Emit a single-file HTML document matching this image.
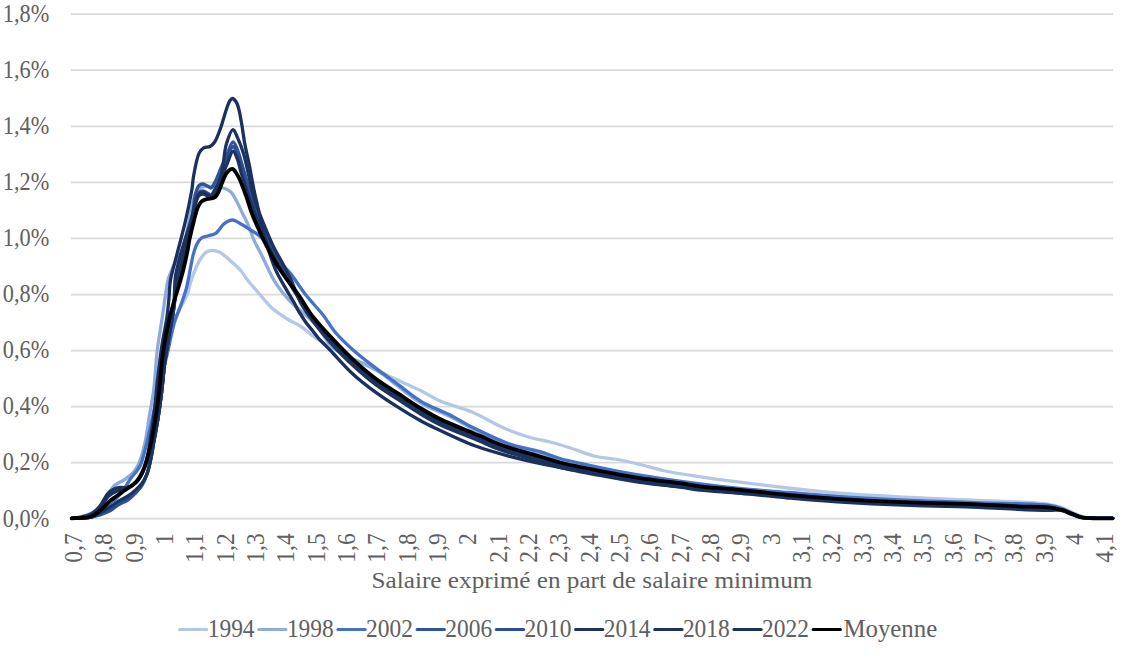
<!DOCTYPE html>
<html><head><meta charset="utf-8"><style>
html,body{margin:0;padding:0;background:#fff;}
svg{display:block;}
.t{font-family:"Liberation Serif",serif;font-size:23px;fill:#606060;}
</style></head><body>
<svg width="1121" height="659" viewBox="0 0 1121 659">
<rect width="1121" height="659" fill="#fff"/>
<line x1="71" y1="518.7" x2="1113" y2="518.7" stroke="#d9d9d9" stroke-width="1.75"/>
<line x1="71" y1="462.6" x2="1113" y2="462.6" stroke="#d9d9d9" stroke-width="1.75"/>
<line x1="71" y1="406.6" x2="1113" y2="406.6" stroke="#d9d9d9" stroke-width="1.75"/>
<line x1="71" y1="350.5" x2="1113" y2="350.5" stroke="#d9d9d9" stroke-width="1.75"/>
<line x1="71" y1="294.5" x2="1113" y2="294.5" stroke="#d9d9d9" stroke-width="1.75"/>
<line x1="71" y1="238.4" x2="1113" y2="238.4" stroke="#d9d9d9" stroke-width="1.75"/>
<line x1="71" y1="182.3" x2="1113" y2="182.3" stroke="#d9d9d9" stroke-width="1.75"/>
<line x1="71" y1="126.3" x2="1113" y2="126.3" stroke="#d9d9d9" stroke-width="1.75"/>
<line x1="71" y1="70.2" x2="1113" y2="70.2" stroke="#d9d9d9" stroke-width="1.75"/>
<line x1="71" y1="14.2" x2="1113" y2="14.2" stroke="#d9d9d9" stroke-width="1.75"/>
<text class="t" text-anchor="end" transform="translate(49.3 526.5) scale(0.97 1.12)">0,0%</text>
<text class="t" text-anchor="end" transform="translate(49.3 470.4) scale(0.97 1.12)">0,2%</text>
<text class="t" text-anchor="end" transform="translate(49.3 414.4) scale(0.97 1.12)">0,4%</text>
<text class="t" text-anchor="end" transform="translate(49.3 358.3) scale(0.97 1.12)">0,6%</text>
<text class="t" text-anchor="end" transform="translate(49.3 302.3) scale(0.97 1.12)">0,8%</text>
<text class="t" text-anchor="end" transform="translate(49.3 246.2) scale(0.97 1.12)">1,0%</text>
<text class="t" text-anchor="end" transform="translate(49.3 190.1) scale(0.97 1.12)">1,2%</text>
<text class="t" text-anchor="end" transform="translate(49.3 134.1) scale(0.97 1.12)">1,4%</text>
<text class="t" text-anchor="end" transform="translate(49.3 78.0) scale(0.97 1.12)">1,6%</text>
<text class="t" text-anchor="end" transform="translate(49.3 22.0) scale(0.97 1.12)">1,8%</text>
<text class="t" text-anchor="end" transform="translate(82.0 533.4) rotate(-90) scale(1.02 1.12)">0,7</text>
<text class="t" text-anchor="end" transform="translate(112.3 533.4) rotate(-90) scale(1.02 1.12)">0,8</text>
<text class="t" text-anchor="end" transform="translate(142.7 533.4) rotate(-90) scale(1.02 1.12)">0,9</text>
<text class="t" text-anchor="end" transform="translate(173.0 533.4) rotate(-90) scale(1.02 1.12)">1</text>
<text class="t" text-anchor="end" transform="translate(203.3 533.4) rotate(-90) scale(1.02 1.12)">1,1</text>
<text class="t" text-anchor="end" transform="translate(233.6 533.4) rotate(-90) scale(1.02 1.12)">1,2</text>
<text class="t" text-anchor="end" transform="translate(264.0 533.4) rotate(-90) scale(1.02 1.12)">1,3</text>
<text class="t" text-anchor="end" transform="translate(294.3 533.4) rotate(-90) scale(1.02 1.12)">1,4</text>
<text class="t" text-anchor="end" transform="translate(324.6 533.4) rotate(-90) scale(1.02 1.12)">1,5</text>
<text class="t" text-anchor="end" transform="translate(355.0 533.4) rotate(-90) scale(1.02 1.12)">1,6</text>
<text class="t" text-anchor="end" transform="translate(385.3 533.4) rotate(-90) scale(1.02 1.12)">1,7</text>
<text class="t" text-anchor="end" transform="translate(415.6 533.4) rotate(-90) scale(1.02 1.12)">1,8</text>
<text class="t" text-anchor="end" transform="translate(446.0 533.4) rotate(-90) scale(1.02 1.12)">1,9</text>
<text class="t" text-anchor="end" transform="translate(476.3 533.4) rotate(-90) scale(1.02 1.12)">2</text>
<text class="t" text-anchor="end" transform="translate(506.6 533.4) rotate(-90) scale(1.02 1.12)">2,1</text>
<text class="t" text-anchor="end" transform="translate(536.9 533.4) rotate(-90) scale(1.02 1.12)">2,2</text>
<text class="t" text-anchor="end" transform="translate(567.3 533.4) rotate(-90) scale(1.02 1.12)">2,3</text>
<text class="t" text-anchor="end" transform="translate(597.6 533.4) rotate(-90) scale(1.02 1.12)">2,4</text>
<text class="t" text-anchor="end" transform="translate(627.9 533.4) rotate(-90) scale(1.02 1.12)">2,5</text>
<text class="t" text-anchor="end" transform="translate(658.3 533.4) rotate(-90) scale(1.02 1.12)">2,6</text>
<text class="t" text-anchor="end" transform="translate(688.6 533.4) rotate(-90) scale(1.02 1.12)">2,7</text>
<text class="t" text-anchor="end" transform="translate(718.9 533.4) rotate(-90) scale(1.02 1.12)">2,8</text>
<text class="t" text-anchor="end" transform="translate(749.3 533.4) rotate(-90) scale(1.02 1.12)">2,9</text>
<text class="t" text-anchor="end" transform="translate(779.6 533.4) rotate(-90) scale(1.02 1.12)">3</text>
<text class="t" text-anchor="end" transform="translate(809.9 533.4) rotate(-90) scale(1.02 1.12)">3,1</text>
<text class="t" text-anchor="end" transform="translate(840.2 533.4) rotate(-90) scale(1.02 1.12)">3,2</text>
<text class="t" text-anchor="end" transform="translate(870.6 533.4) rotate(-90) scale(1.02 1.12)">3,3</text>
<text class="t" text-anchor="end" transform="translate(900.9 533.4) rotate(-90) scale(1.02 1.12)">3,4</text>
<text class="t" text-anchor="end" transform="translate(931.2 533.4) rotate(-90) scale(1.02 1.12)">3,5</text>
<text class="t" text-anchor="end" transform="translate(961.6 533.4) rotate(-90) scale(1.02 1.12)">3,6</text>
<text class="t" text-anchor="end" transform="translate(991.9 533.4) rotate(-90) scale(1.02 1.12)">3,7</text>
<text class="t" text-anchor="end" transform="translate(1022.2 533.4) rotate(-90) scale(1.02 1.12)">3,8</text>
<text class="t" text-anchor="end" transform="translate(1052.6 533.4) rotate(-90) scale(1.02 1.12)">3,9</text>
<text class="t" text-anchor="end" transform="translate(1082.9 533.4) rotate(-90) scale(1.02 1.12)">4</text>
<text class="t" text-anchor="end" transform="translate(1113.2 533.4) rotate(-90) scale(1.02 1.12)">4,1</text>
<text class="t" text-anchor="middle" transform="translate(592 587.7) scale(1.096 1.04)">Salaire exprimé en part de salaire minimum</text>
<path d="M71.6 518.3 C74.4 517.9 77.0 517.9 80.0 517.2 C83.7 516.3 88.5 514.9 92.0 513.0 C95.1 511.3 97.5 509.1 100.0 506.5 C102.9 503.6 105.5 499.6 108.0 496.0 C110.5 492.4 112.2 487.8 115.2 485.0 C117.9 482.4 121.9 481.6 124.9 479.5 C127.9 477.4 130.9 475.4 133.4 472.5 C136.3 469.1 138.6 464.5 140.7 460.0 C142.9 455.3 144.3 450.7 146.0 445.0 C148.1 437.8 150.0 428.3 152.0 420.0 C154.0 411.7 156.2 403.4 158.0 395.0 C159.8 386.7 161.3 378.3 163.0 370.0 C164.7 361.7 166.0 352.8 168.0 345.0 C169.8 337.9 172.1 331.1 174.0 325.0 C175.6 319.9 176.8 315.8 178.8 311.0 C181.1 305.6 185.2 299.7 187.3 294.3 C189.1 289.7 189.6 285.3 191.0 281.0 C192.3 276.9 193.9 272.8 195.5 269.0 C197.0 265.5 198.6 261.9 200.5 259.0 C202.2 256.3 204.2 253.4 206.4 252.0 C208.1 250.9 209.9 250.4 211.9 250.3 C214.2 250.2 216.7 250.8 219.2 252.0 C222.6 253.6 226.5 257.4 230.1 260.5 C233.8 263.7 238.1 267.6 241.1 271.0 C243.5 273.8 244.8 276.5 247.0 279.3 C249.4 282.5 252.7 286.2 255.1 289.0 C256.9 291.1 258.0 292.3 260.0 294.6 C263.1 298.2 267.6 304.2 272.1 308.3 C276.7 312.4 282.3 315.9 287.3 319.0 C291.9 321.9 296.6 323.6 301.0 326.5 C305.7 329.6 309.8 333.9 314.6 337.2 C319.5 340.6 323.9 343.2 330.0 346.7 C338.3 351.5 350.1 357.5 360.3 362.6 C370.4 367.6 380.6 372.3 390.7 377.0 C400.8 381.7 412.1 386.3 421.0 390.7 C428.1 394.2 432.7 397.8 440.0 401.0 C449.1 405.0 461.5 407.6 472.0 412.0 C482.8 416.5 493.8 423.6 504.0 428.0 C513.0 431.9 521.6 435.0 530.0 437.5 C537.6 439.7 544.6 440.5 552.0 442.5 C559.6 444.5 567.7 447.1 575.0 449.5 C581.7 451.7 587.1 454.3 594.0 456.0 C601.9 457.9 611.9 458.5 620.0 460.0 C627.1 461.3 633.0 462.8 640.0 464.5 C647.9 466.4 656.1 469.1 665.0 471.0 C675.0 473.1 685.5 474.6 697.0 476.3 C710.3 478.3 725.3 480.3 740.0 482.2 C755.6 484.2 771.9 486.2 788.0 488.0 C804.2 489.8 819.0 491.5 837.0 493.0 C858.9 494.8 886.0 496.3 910.0 497.5 C933.2 498.7 955.5 499.3 978.5 500.4 C1001.8 501.5 1034.6 502.0 1049.0 504.3 C1055.5 505.3 1058.7 506.5 1062.9 508.0 C1066.5 509.3 1069.4 511.0 1072.7 512.5 C1075.9 514.0 1078.8 515.8 1082.4 516.8 C1086.5 517.9 1091.3 518.0 1096.1 518.3 C1101.4 518.6 1107.2 518.3 1112.7 518.3" fill="none" stroke="#b4c7e7" stroke-width="3.3" stroke-linejoin="round" stroke-linecap="round"/>
<path d="M71.6 518.3 C74.4 517.9 77.0 517.7 80.0 517.0 C83.7 516.1 88.5 514.9 92.0 513.0 C95.1 511.3 97.5 509.2 100.0 506.5 C102.9 503.3 105.5 498.1 108.0 494.5 C110.1 491.4 111.4 488.5 114.0 486.0 C117.0 483.2 122.0 481.4 125.3 479.0 C128.2 477.0 130.8 475.0 132.9 472.8 C134.8 470.9 136.2 469.0 137.5 466.7 C138.9 464.1 139.9 461.5 141.0 458.0 C142.6 453.1 144.2 446.5 145.5 440.0 C147.1 432.4 148.1 423.3 149.5 415.0 C150.9 406.7 152.5 399.3 153.7 390.0 C155.2 378.3 155.8 362.5 157.3 350.0 C158.6 338.9 160.7 328.3 162.1 318.6 C163.4 310.2 164.4 302.0 165.5 295.0 C166.4 289.4 166.6 285.1 168.0 280.0 C169.6 274.4 172.5 268.1 175.0 263.0 C177.2 258.6 180.2 255.4 182.0 251.0 C183.9 246.4 184.8 241.1 186.0 236.0 C187.2 230.8 188.1 225.3 189.2 220.0 C190.2 214.7 191.1 208.7 192.3 204.0 C193.3 200.2 194.0 196.9 195.5 194.0 C196.8 191.5 198.7 188.7 200.6 187.5 C202.0 186.6 203.4 186.7 205.0 186.5 C206.8 186.3 208.7 186.4 211.0 186.5 C214.1 186.6 218.6 186.5 222.0 187.5 C225.1 188.4 228.2 189.6 230.6 191.8 C233.3 194.3 235.1 198.5 237.0 202.0 C239.0 205.5 240.5 209.4 242.3 213.0 C244.1 216.6 245.9 219.7 247.6 223.7 C249.7 228.4 251.5 234.4 253.8 239.6 C256.2 245.0 258.8 249.5 261.8 255.5 C265.8 263.4 270.4 274.8 275.5 282.8 C279.9 289.7 284.9 295.6 290.0 301.0 C294.8 306.1 300.4 310.2 305.0 314.5 C309.2 318.4 312.9 321.4 316.6 325.7 C320.7 330.5 324.5 337.8 328.0 342.0 C330.5 345.0 332.1 346.7 335.0 349.0 C338.9 352.1 344.9 355.5 350.0 358.0 C354.9 360.4 360.1 361.6 365.0 364.0 C370.1 366.4 374.9 369.1 380.0 372.5 C385.9 376.4 391.8 381.7 398.3 386.5 C405.4 391.8 412.7 398.1 421.0 403.0 C429.8 408.2 440.8 411.9 450.0 416.5 C458.7 420.9 465.7 425.5 474.8 430.0 C485.3 435.2 498.2 441.6 509.6 445.5 C519.9 449.0 531.0 450.3 540.0 453.0 C547.4 455.2 552.1 457.7 560.0 460.0 C571.0 463.1 586.6 466.2 600.0 469.0 C613.3 471.8 625.3 474.2 640.0 476.7 C657.9 479.7 682.1 483.2 700.0 485.5 C714.4 487.4 725.2 488.8 739.0 490.0 C754.4 491.4 771.7 491.8 788.0 493.0 C804.3 494.2 819.0 495.8 837.0 497.0 C858.9 498.5 886.0 499.8 910.0 500.8 C933.2 501.8 955.5 502.2 978.5 503.0 C1001.8 503.8 1034.6 503.9 1049.0 505.8 C1055.5 506.7 1058.7 507.6 1062.9 509.0 C1066.5 510.2 1069.4 512.1 1072.7 513.5 C1075.9 514.9 1078.8 516.4 1082.4 517.2 C1086.5 518.1 1091.3 518.1 1096.1 518.3 C1101.4 518.5 1107.2 518.3 1112.7 518.3" fill="none" stroke="#8faadc" stroke-width="3.3" stroke-linejoin="round" stroke-linecap="round"/>
<path d="M71.6 518.3 C74.4 518.2 77.0 518.2 80.0 518.0 C83.6 517.8 88.5 517.8 92.0 516.8 C95.0 516.0 97.5 514.8 100.0 513.0 C102.9 511.0 105.3 507.5 108.0 505.0 C110.6 502.6 113.6 500.8 116.0 498.5 C118.2 496.4 119.9 494.7 122.0 492.0 C124.9 488.2 128.7 481.1 131.4 477.5 C133.1 475.2 134.5 474.0 136.0 472.0 C137.6 469.9 139.2 467.8 140.5 465.0 C142.2 461.4 143.3 456.4 144.5 452.0 C145.8 447.4 146.8 443.1 148.0 438.0 C149.4 431.9 151.0 424.9 152.5 418.0 C154.1 410.6 155.5 401.8 157.0 395.0 C158.2 389.5 159.3 385.0 160.5 380.0 C161.8 375.0 163.2 370.0 164.5 365.0 C165.8 360.0 166.9 355.8 168.2 350.0 C170.0 342.2 171.9 330.1 174.3 322.2 C176.1 316.1 178.4 311.9 180.4 306.4 C182.5 300.6 184.9 293.7 186.4 288.2 C187.6 283.8 188.1 280.6 189.0 276.0 C190.2 270.2 191.4 262.0 192.8 256.4 C193.9 252.0 194.9 248.2 196.5 245.0 C197.8 242.4 198.9 240.0 200.9 238.5 C202.9 236.9 206.1 236.6 208.6 235.7 C211.0 234.9 213.5 234.8 215.8 233.3 C218.8 231.3 221.2 225.9 224.3 223.6 C226.9 221.7 230.0 219.9 232.7 220.0 C235.2 220.1 237.4 222.1 240.0 223.5 C243.0 225.1 246.4 227.3 249.7 229.4 C253.3 231.7 257.3 233.8 260.6 236.9 C264.1 240.2 266.8 244.9 270.0 249.0 C273.3 253.3 276.5 257.9 280.0 262.0 C283.4 266.0 286.8 268.9 290.4 273.4 C295.1 279.3 300.1 287.6 305.5 294.6 C311.2 301.8 318.6 309.2 323.8 315.9 C328.0 321.4 330.3 326.3 334.6 331.5 C339.7 337.6 346.2 343.8 352.8 349.7 C359.8 356.0 367.9 362.0 375.5 367.9 C383.0 373.7 390.7 379.0 398.3 384.6 C405.9 390.2 412.7 396.4 421.0 401.3 C429.8 406.6 440.8 410.3 450.0 415.0 C458.7 419.4 465.7 424.0 474.8 428.5 C485.3 433.7 498.2 440.1 509.6 444.0 C519.9 447.6 531.0 448.9 540.0 451.6 C547.4 453.8 552.1 456.3 560.0 458.5 C571.0 461.6 586.6 464.7 600.0 467.5 C613.3 470.3 625.3 472.7 640.0 475.2 C657.9 478.2 682.1 481.7 700.0 484.0 C714.4 485.9 725.2 487.1 739.0 488.5 C754.4 490.0 771.7 491.2 788.0 492.5 C804.3 493.8 819.0 495.3 837.0 496.5 C858.9 498.0 886.0 499.4 910.0 500.5 C933.2 501.5 955.5 502.0 978.5 502.8 C1001.8 503.6 1034.6 503.4 1049.0 505.5 C1055.5 506.4 1058.7 507.5 1062.9 509.0 C1066.5 510.3 1069.4 512.1 1072.7 513.5 C1075.9 514.9 1078.8 516.4 1082.4 517.2 C1086.5 518.1 1091.3 518.1 1096.1 518.3 C1101.4 518.5 1107.2 518.3 1112.7 518.3" fill="none" stroke="#4472c4" stroke-width="3.3" stroke-linejoin="round" stroke-linecap="round"/>
<path d="M71.6 518.3 C74.4 518.2 77.0 518.2 80.0 518.0 C83.6 517.8 88.5 517.6 92.0 516.8 C95.0 516.1 97.2 515.0 100.0 513.8 C103.2 512.4 106.9 510.6 110.0 508.8 C112.9 507.1 115.1 505.0 118.0 503.2 C121.1 501.3 124.9 499.8 128.0 497.8 C130.9 495.7 133.6 493.3 136.0 491.0 C138.2 488.8 140.2 486.9 142.0 484.2 C144.0 481.3 145.6 477.9 147.0 474.0 C148.7 469.3 149.8 463.5 151.0 458.0 C152.2 452.2 153.0 446.2 154.1 440.0 C155.2 433.5 156.5 427.2 157.7 420.0 C159.1 411.5 160.4 401.7 161.6 392.0 C162.9 381.7 163.7 369.9 165.1 360.0 C166.3 351.4 167.7 344.2 169.1 336.0 C170.5 327.5 172.4 317.9 173.5 310.0 C174.4 303.5 174.6 297.8 175.3 292.0 C175.9 286.5 176.2 282.0 177.3 276.0 C178.8 267.9 181.6 257.1 184.0 248.0 C186.3 239.1 189.6 230.9 191.5 222.0 C193.5 212.9 193.7 200.6 195.5 194.0 C196.5 190.3 197.4 187.1 199.0 185.5 C200.1 184.4 201.6 184.0 203.0 184.0 C204.5 184.0 206.1 185.3 207.5 186.0 C208.8 186.6 209.9 188.3 211.0 188.0 C212.5 187.7 213.6 184.5 215.0 182.0 C217.0 178.4 219.0 172.5 221.0 168.0 C222.9 163.8 224.6 160.1 226.5 155.9 C228.6 151.4 231.0 142.0 233.0 141.9 C234.6 141.8 236.1 146.7 237.5 149.9 C239.3 154.0 240.3 158.8 242.1 164.8 C244.7 174.0 248.2 189.4 251.6 200.0 C254.5 209.0 257.5 216.6 260.8 224.6 C263.9 232.5 267.3 240.7 270.8 247.8 C273.8 254.0 277.2 259.5 280.3 265.0 C283.2 270.2 286.1 275.3 288.8 280.0 C291.2 284.3 293.3 288.2 295.7 292.2 C298.1 296.2 299.6 299.2 303.0 304.0 C309.1 312.7 321.5 328.9 330.5 339.1 C338.1 347.7 345.2 354.7 352.8 361.8 C360.2 368.6 367.8 375.2 375.5 381.0 C382.9 386.6 390.7 391.2 398.3 396.2 C405.9 401.2 413.7 406.6 421.0 410.9 C427.5 414.8 432.4 417.7 440.0 421.4 C450.8 426.6 469.0 433.4 480.0 438.1 C487.8 441.4 492.1 443.8 500.0 446.7 C510.9 450.7 529.0 455.3 540.0 458.6 C547.8 460.9 552.1 462.5 560.0 464.5 C571.0 467.3 586.6 470.2 600.0 472.8 C613.3 475.3 626.6 477.9 640.0 479.9 C653.3 482.0 669.0 483.3 680.0 484.8 C687.8 485.9 692.2 486.9 700.0 487.9 C711.0 489.2 726.1 489.9 740.0 491.2 C755.3 492.7 771.9 494.7 788.0 496.2 C804.2 497.7 819.0 498.9 837.0 500.1 C858.9 501.5 886.0 502.7 910.0 503.6 C933.2 504.5 958.8 504.8 978.5 505.6 C993.4 506.1 1005.5 507.0 1017.8 507.6 C1028.8 508.0 1040.7 507.9 1049.0 508.6 C1054.6 509.0 1058.7 509.1 1062.9 510.2 C1066.5 511.1 1069.4 512.9 1072.7 514.1 C1075.9 515.3 1078.8 516.8 1082.4 517.5 C1086.5 518.3 1091.3 518.2 1096.1 518.3 C1101.4 518.5 1107.2 518.3 1112.7 518.3" fill="none" stroke="#2f5597" stroke-width="3.3" stroke-linejoin="round" stroke-linecap="round"/>
<path d="M71.6 518.3 C74.4 518.2 77.0 518.2 80.0 518.0 C83.6 517.8 88.4 517.4 92.0 516.8 C95.0 516.3 97.2 515.8 100.0 515.0 C103.2 513.9 106.9 512.4 110.0 510.8 C112.9 509.2 115.1 507.0 118.0 505.2 C121.1 503.3 125.0 501.9 128.0 499.8 C130.9 497.7 133.6 495.1 136.0 492.6 C138.2 490.3 140.3 488.3 142.0 485.4 C144.0 482.2 145.6 478.2 147.0 474.0 C148.6 469.2 149.8 463.5 151.0 458.0 C152.2 452.2 153.0 446.2 154.1 440.0 C155.2 433.5 156.5 427.2 157.7 420.0 C159.1 411.5 160.4 401.7 161.6 392.0 C162.9 381.7 163.7 369.9 165.1 360.0 C166.3 351.4 167.7 344.2 169.1 336.0 C170.5 327.5 172.4 317.9 173.5 310.0 C174.5 303.5 174.9 297.8 175.7 292.0 C176.5 286.5 177.0 282.0 178.2 276.0 C179.8 267.9 182.5 257.1 184.8 248.0 C187.1 239.2 190.2 230.3 192.0 222.0 C193.6 214.7 194.0 206.4 195.5 201.0 C196.5 197.5 197.4 194.1 199.0 192.5 C200.1 191.4 201.6 191.0 203.0 191.0 C204.5 191.0 206.1 192.3 207.5 193.0 C208.8 193.6 209.9 195.3 211.0 195.0 C212.5 194.7 213.6 191.5 215.0 189.0 C217.0 185.4 219.1 179.7 221.0 175.0 C222.9 170.2 224.5 165.3 226.5 160.5 C228.5 155.8 231.0 146.6 233.0 146.5 C234.6 146.4 236.1 151.4 237.5 154.5 C239.4 158.5 240.8 163.2 242.8 168.9 C245.7 177.3 249.7 190.3 253.1 200.0 C256.2 208.7 259.1 216.6 262.4 224.6 C265.6 232.5 268.9 240.7 272.4 247.8 C275.5 254.0 278.9 259.5 281.9 265.0 C284.7 270.2 287.5 275.1 290.0 280.0 C292.3 284.5 294.0 288.8 296.2 293.0 C298.4 297.2 299.7 300.2 303.0 305.2 C308.9 314.1 321.5 330.3 330.5 340.6 C338.1 349.3 345.2 356.2 352.8 363.3 C360.2 370.1 367.8 376.7 375.5 382.5 C382.9 388.1 390.7 392.7 398.3 397.7 C405.9 402.7 413.7 408.0 421.0 412.4 C427.5 416.3 432.4 419.1 440.0 422.8 C450.8 428.0 469.0 434.7 480.0 439.4 C487.8 442.7 492.1 445.1 500.0 448.0 C510.9 452.0 529.0 456.5 540.0 459.8 C547.8 462.1 552.1 463.7 560.0 465.7 C571.0 468.4 586.6 471.3 600.0 473.9 C613.3 476.4 626.6 479.0 640.0 481.0 C653.3 483.0 669.0 484.3 680.0 485.8 C687.8 486.9 692.2 487.9 700.0 488.8 C711.0 490.1 726.1 490.8 740.0 492.1 C755.3 493.5 771.9 495.5 788.0 497.0 C804.2 498.4 819.0 499.7 837.0 500.8 C858.9 502.2 886.0 503.5 910.0 504.4 C933.2 505.3 958.8 505.5 978.5 506.3 C993.4 506.9 1005.5 507.8 1017.8 508.3 C1028.8 508.8 1040.7 508.9 1049.0 509.3 C1054.6 509.6 1058.7 509.3 1062.9 510.2 C1066.5 511.0 1069.4 512.9 1072.7 514.1 C1075.9 515.3 1078.8 516.8 1082.4 517.5 C1086.5 518.3 1091.3 518.2 1096.1 518.3 C1101.4 518.5 1107.2 518.3 1112.7 518.3" fill="none" stroke="#2b4f96" stroke-width="3.3" stroke-linejoin="round" stroke-linecap="round"/>
<path d="M71.6 518.3 C74.4 518.1 77.0 518.1 80.0 517.6 C83.7 517.1 88.5 516.6 92.0 515.0 C95.1 513.6 97.5 511.6 100.0 509.0 C103.0 505.8 105.0 499.5 108.0 496.5 C110.4 494.1 113.2 492.8 116.0 491.5 C118.8 490.2 122.1 489.6 125.0 488.5 C127.8 487.4 130.7 486.5 133.0 485.0 C135.0 483.7 136.5 482.3 138.0 480.5 C139.6 478.5 140.6 476.2 142.0 473.5 C143.8 470.0 145.6 465.8 147.4 461.0 C149.7 455.0 152.4 447.0 154.1 440.0 C155.8 433.3 156.5 427.2 157.7 420.0 C159.1 411.5 160.4 401.7 161.6 392.0 C162.9 381.7 163.7 369.9 165.1 360.0 C166.3 351.4 167.7 344.2 169.1 336.0 C170.5 327.5 172.6 317.9 173.5 310.0 C174.2 303.5 174.2 297.8 174.5 292.0 C174.8 286.5 174.6 282.0 175.5 276.0 C176.7 267.9 179.9 257.1 182.4 248.0 C184.9 239.1 188.2 230.1 190.5 222.0 C192.5 215.1 193.8 207.6 195.5 202.5 C196.7 199.0 197.4 195.6 199.0 194.0 C200.1 192.9 201.6 192.5 203.0 192.5 C204.5 192.5 206.1 193.8 207.5 194.5 C208.8 195.1 209.9 196.8 211.0 196.5 C212.5 196.2 213.6 193.0 215.0 190.5 C217.0 186.9 219.3 182.3 221.0 176.5 C223.5 168.0 223.9 152.1 226.5 143.6 C228.3 137.8 231.0 129.7 233.0 129.6 C234.6 129.5 236.0 134.4 237.5 137.6 C239.5 142.0 241.5 146.9 243.6 153.7 C247.0 165.1 250.6 187.1 254.6 200.0 C257.6 209.6 260.8 216.6 264.0 224.6 C267.2 232.5 270.6 240.7 274.0 247.8 C277.1 254.0 280.6 259.4 283.5 265.0 C286.3 270.2 289.0 275.0 291.2 280.0 C293.4 284.7 294.7 289.5 296.7 294.0 C298.6 298.4 299.8 301.7 303.0 306.8 C308.7 316.0 321.5 332.3 330.5 342.6 C338.1 351.3 345.2 358.2 352.8 365.3 C360.2 372.1 367.8 378.7 375.5 384.5 C382.9 390.1 390.7 394.7 398.3 399.7 C405.9 404.7 413.7 410.0 421.0 414.3 C427.5 418.2 432.4 421.1 440.0 424.7 C450.8 429.8 469.0 436.6 480.0 441.2 C487.8 444.5 492.1 446.9 500.0 449.8 C510.9 453.7 529.0 458.2 540.0 461.4 C547.8 463.7 552.1 465.4 560.0 467.3 C571.0 470.0 586.6 472.9 600.0 475.4 C613.3 477.9 626.6 480.4 640.0 482.4 C653.3 484.3 669.0 485.6 680.0 487.1 C687.8 488.1 692.2 489.2 700.0 490.1 C711.0 491.3 726.1 492.0 740.0 493.2 C755.3 494.6 771.9 496.6 788.0 498.0 C804.2 499.4 819.0 500.7 837.0 501.8 C858.9 503.2 886.0 504.5 910.0 505.4 C933.2 506.3 958.8 506.5 978.5 507.3 C993.4 507.9 1005.5 508.8 1017.8 509.3 C1028.8 509.8 1040.7 510.2 1049.0 510.3 C1054.6 510.4 1058.7 509.4 1062.9 510.2 C1066.5 510.9 1069.4 512.9 1072.7 514.1 C1075.9 515.3 1078.8 516.8 1082.4 517.5 C1086.5 518.3 1091.3 518.2 1096.1 518.3 C1101.4 518.5 1107.2 518.3 1112.7 518.3" fill="none" stroke="#1c3360" stroke-width="3.3" stroke-linejoin="round" stroke-linecap="round"/>
<path d="M71.6 518.3 C74.4 518.2 77.0 518.2 80.0 518.0 C83.6 517.8 88.5 517.8 92.0 516.8 C95.0 515.9 97.2 514.2 100.0 512.7 C103.2 511.0 106.9 509.0 110.0 507.0 C112.9 505.2 115.1 503.3 118.0 501.5 C121.1 499.6 124.9 498.0 128.0 496.0 C130.9 494.1 133.6 491.8 136.0 489.6 C138.2 487.5 140.2 485.7 142.0 483.2 C143.9 480.5 145.6 477.6 147.0 474.0 C148.8 469.5 149.8 463.5 151.0 458.0 C152.2 452.2 153.0 446.2 154.1 440.0 C155.2 433.5 156.5 427.2 157.7 420.0 C159.1 411.5 160.4 401.7 161.6 392.0 C162.9 381.7 163.7 369.9 165.1 360.0 C166.3 351.4 167.7 344.2 169.1 336.0 C170.5 327.5 172.3 317.9 173.5 310.0 C174.5 303.5 175.1 297.8 176.1 292.0 C177.0 286.5 177.8 282.1 179.1 276.0 C180.8 267.9 183.3 257.1 185.6 248.0 C187.8 239.2 190.8 229.9 192.5 222.0 C193.9 215.5 194.1 208.8 195.5 204.0 C196.5 200.6 197.4 197.1 199.0 195.5 C200.1 194.4 201.6 194.0 203.0 194.0 C204.5 194.0 206.1 195.3 207.5 196.0 C208.8 196.6 209.9 198.3 211.0 198.0 C212.5 197.7 213.6 194.5 215.0 192.0 C217.0 188.4 219.0 182.5 221.0 178.0 C222.9 173.7 224.6 169.7 226.5 165.4 C228.6 160.8 231.0 151.5 233.0 151.4 C234.6 151.3 236.2 156.3 237.5 159.4 C239.1 163.3 239.7 168.0 241.3 173.4 C243.6 180.8 247.1 191.3 250.1 200.0 C253.0 208.4 255.9 216.6 259.1 224.6 C262.3 232.5 265.7 240.7 269.1 247.8 C272.2 254.0 275.5 259.5 278.6 265.0 C281.6 270.2 284.6 275.2 287.5 280.0 C290.1 284.4 292.6 288.4 295.2 292.5 C297.8 296.5 299.5 299.5 303.0 304.4 C309.3 313.1 321.5 329.4 330.5 339.6 C338.1 348.2 345.2 355.2 352.8 362.3 C360.2 369.1 367.8 375.7 375.5 381.5 C382.9 387.1 390.7 391.7 398.3 396.7 C405.9 401.7 413.7 407.1 421.0 411.4 C427.5 415.3 432.4 418.2 440.0 421.9 C450.8 427.0 469.0 433.8 480.0 438.5 C487.8 441.8 492.1 444.3 500.0 447.1 C510.9 451.1 529.0 455.7 540.0 459.0 C547.8 461.3 552.1 462.9 560.0 464.9 C571.0 467.7 586.6 470.6 600.0 473.1 C613.3 475.7 626.6 478.3 640.0 480.3 C653.3 482.3 669.0 483.6 680.0 485.1 C687.8 486.2 692.2 487.3 700.0 488.2 C711.0 489.5 726.1 490.2 740.0 491.5 C755.3 492.9 771.9 495.0 788.0 496.4 C804.2 497.9 819.0 499.2 837.0 500.3 C858.9 501.7 886.0 503.0 910.0 503.9 C933.2 504.8 958.8 505.0 978.5 505.8 C993.4 506.4 1005.5 507.3 1017.8 507.8 C1028.8 508.3 1040.7 508.2 1049.0 508.8 C1054.6 509.2 1058.7 509.2 1062.9 510.2 C1066.5 511.1 1069.4 512.9 1072.7 514.1 C1075.9 515.3 1078.8 516.8 1082.4 517.5 C1086.5 518.3 1091.3 518.2 1096.1 518.3 C1101.4 518.5 1107.2 518.3 1112.7 518.3" fill="none" stroke="#1c3360" stroke-width="3.3" stroke-linejoin="round" stroke-linecap="round"/>
<path d="M71.6 518.3 C74.4 518.0 77.0 518.0 80.0 517.4 C83.7 516.6 88.6 515.5 92.0 513.5 C95.2 511.6 97.5 509.0 100.0 506.0 C102.9 502.5 105.2 496.5 108.0 493.5 C110.0 491.4 111.9 490.0 114.0 489.0 C115.9 488.1 117.8 487.8 120.0 487.5 C122.5 487.2 125.4 488.2 128.0 487.5 C130.8 486.7 133.7 484.7 136.0 482.5 C138.4 480.2 140.3 477.4 142.0 474.0 C144.1 469.8 145.6 464.6 147.0 459.0 C148.7 452.0 149.8 443.1 151.0 435.0 C152.3 426.8 153.5 418.7 154.5 410.0 C155.6 400.5 156.3 390.4 157.5 380.0 C158.8 368.8 160.3 355.9 162.0 345.0 C163.5 335.4 165.6 326.1 166.8 318.0 C167.8 311.4 168.2 306.2 168.8 300.0 C169.4 293.5 169.4 286.9 170.5 280.0 C171.8 272.4 174.6 263.5 176.4 256.4 C177.9 250.4 179.2 245.7 180.7 240.0 C182.3 233.8 184.2 226.3 185.6 220.4 C186.7 215.5 187.6 211.1 188.5 207.0 C189.2 203.4 189.9 200.1 190.5 197.0 C191.0 194.2 191.5 192.0 192.0 189.0 C192.6 185.2 192.7 180.9 193.6 176.0 C194.8 169.4 196.7 157.8 199.2 153.0 C200.5 150.4 201.9 148.9 203.7 147.8 C205.5 146.7 208.3 147.5 210.1 146.5 C211.9 145.5 213.3 144.1 214.7 142.0 C217.0 138.6 219.1 132.2 221.0 126.9 C223.0 121.2 224.8 113.8 226.5 109.0 C227.7 105.6 228.7 102.3 230.0 100.5 C230.8 99.4 231.7 98.4 232.6 98.5 C233.7 98.6 235.2 100.5 236.2 102.0 C237.3 103.7 237.9 105.6 238.6 108.2 C239.8 112.2 240.7 118.5 241.7 124.0 C242.8 130.1 243.5 136.7 244.7 143.3 C246.0 150.4 247.8 157.6 249.3 165.1 C250.9 173.1 252.3 182.0 254.0 190.0 C255.6 197.6 257.3 204.4 259.0 212.0 C260.9 220.3 262.5 229.0 265.0 238.0 C267.8 247.9 271.3 259.8 275.2 268.8 C278.4 276.3 283.0 283.7 285.8 288.6 C287.5 291.6 288.6 293.3 290.0 295.7 C291.5 298.2 293.3 301.0 294.6 303.5 C295.7 305.6 296.5 307.5 297.6 309.5 C298.7 311.5 300.1 313.5 301.4 315.5 C302.7 317.5 303.6 319.3 305.2 321.5 C307.2 324.4 310.4 328.0 312.8 331.0 C314.9 333.7 316.4 335.9 318.8 338.6 C321.9 342.1 325.6 345.5 330.0 350.0 C336.3 356.5 345.0 366.8 352.8 374.0 C360.2 380.8 367.8 386.6 375.5 392.2 C383.0 397.7 390.6 402.6 398.3 407.4 C405.8 412.2 414.1 417.2 421.0 421.0 C426.5 424.0 429.9 425.6 436.2 428.6 C446.1 433.3 462.1 441.1 474.8 445.8 C486.6 450.2 497.1 453.0 509.6 456.3 C523.9 460.1 540.5 463.6 556.0 466.7 C571.4 469.8 586.9 472.1 602.4 474.8 C617.9 477.5 632.9 480.7 648.8 483.0 C665.4 485.4 684.1 487.0 700.0 488.8 C713.9 490.3 725.2 491.8 739.0 493.0 C754.4 494.4 771.7 495.3 788.0 496.5 C804.3 497.7 819.0 498.9 837.0 500.0 C858.9 501.4 886.0 502.9 910.0 503.8 C933.2 504.7 958.8 504.8 978.5 505.5 C993.4 506.0 1005.5 506.8 1017.8 507.3 C1028.8 507.7 1040.7 507.4 1049.0 508.3 C1054.6 508.9 1058.7 509.8 1062.9 511.0 C1066.5 512.0 1069.4 513.7 1072.7 514.8 C1075.9 515.9 1078.8 517.2 1082.4 517.8 C1086.5 518.5 1091.3 518.2 1096.1 518.3 C1101.4 518.4 1107.2 518.3 1112.7 518.3" fill="none" stroke="#1a305e" stroke-width="3.3" stroke-linejoin="round" stroke-linecap="round"/>
<path d="M71.6 518.3 C74.4 518.2 77.2 518.1 80.0 518.0 C82.7 517.9 85.5 518.1 88.0 517.5 C90.5 516.9 92.7 515.9 95.0 514.5 C97.6 513.0 100.1 510.7 102.6 508.5 C105.2 506.1 107.6 503.0 110.2 500.7 C112.6 498.6 115.3 497.1 117.8 495.3 C120.3 493.5 122.8 491.8 125.3 490.0 C127.8 488.2 130.7 486.5 132.9 484.7 C134.7 483.2 136.1 482.0 137.5 480.2 C139.2 478.1 140.7 475.2 142.0 472.6 C143.2 470.1 144.1 467.9 145.1 465.0 C146.3 461.5 147.4 457.1 148.5 453.0 C149.6 448.8 150.6 444.8 151.6 440.0 C152.8 434.1 154.0 427.2 155.2 420.0 C156.6 411.5 157.9 402.3 159.1 392.0 C160.6 379.4 161.5 362.9 163.4 350.0 C165.0 338.7 167.3 327.6 169.4 318.6 C171.0 311.7 172.7 306.0 174.3 300.4 C175.7 295.6 177.1 291.7 178.5 287.0 C180.0 281.9 181.6 276.6 183.0 271.0 C184.5 265.0 186.2 257.6 187.3 252.0 C188.2 247.6 188.5 244.5 189.4 240.0 C190.6 234.2 192.5 226.2 194.0 220.4 C195.3 215.6 196.3 210.9 197.8 207.5 C198.9 205.0 200.1 202.7 201.6 201.4 C202.8 200.4 204.1 200.0 205.5 199.5 C207.1 199.0 209.3 198.9 211.0 198.5 C212.4 198.2 213.8 198.2 215.0 197.3 C216.4 196.2 217.4 194.1 218.5 192.0 C219.8 189.5 220.7 186.1 222.0 183.0 C223.5 179.6 224.9 174.9 227.0 172.5 C228.6 170.7 230.8 168.7 232.5 169.0 C234.5 169.3 236.4 173.4 238.0 176.0 C239.6 178.7 240.7 181.8 242.0 185.0 C243.5 188.7 245.0 192.8 246.5 197.0 C248.1 201.5 249.3 206.4 251.0 211.0 C252.7 215.6 254.4 219.8 256.5 224.6 C258.9 230.1 261.6 236.0 264.6 242.0 C267.9 248.6 271.7 256.1 275.5 262.5 C279.0 268.4 282.6 273.6 286.5 279.0 C290.5 284.6 294.9 289.7 299.0 295.5 C303.3 301.6 306.6 308.3 311.5 314.8 C317.0 322.0 323.8 329.4 330.5 336.6 C337.5 344.2 345.2 352.2 352.8 359.3 C360.2 366.1 367.8 372.7 375.5 378.5 C382.9 384.1 390.7 388.7 398.3 393.7 C405.9 398.7 413.7 404.1 421.0 408.5 C427.5 412.4 432.4 415.3 440.0 419.0 C450.8 424.2 469.0 431.1 480.0 435.8 C487.8 439.1 492.1 441.6 500.0 444.5 C510.9 448.5 529.0 453.2 540.0 456.5 C547.8 458.8 552.1 460.5 560.0 462.5 C571.0 465.3 586.6 468.3 600.0 470.9 C613.3 473.5 626.6 476.1 640.0 478.2 C653.3 480.2 669.0 481.7 680.0 483.2 C687.8 484.3 692.2 485.4 700.0 486.3 C711.0 487.6 726.1 488.5 740.0 489.8 C755.3 491.3 771.9 493.4 788.0 494.9 C804.2 496.4 819.0 497.6 837.0 498.8 C858.9 500.2 886.0 501.5 910.0 502.4 C933.2 503.3 958.8 503.5 978.5 504.3 C993.4 504.9 1005.5 505.8 1017.8 506.3 C1028.8 506.8 1040.7 506.3 1049.0 507.3 C1054.6 508.0 1058.7 508.9 1062.9 510.2 C1066.5 511.3 1069.4 512.9 1072.7 514.1 C1075.9 515.3 1078.8 516.8 1082.4 517.5 C1086.5 518.3 1091.3 518.2 1096.1 518.3 C1101.4 518.5 1107.2 518.3 1112.7 518.3" fill="none" stroke="#000000" stroke-width="3.8" stroke-linejoin="round" stroke-linecap="round"/>
<line x1="179.5" y1="629.5" x2="206.8" y2="629.5" stroke="#b4c7e7" stroke-width="3" stroke-linecap="round"/>
<text class="t" transform="translate(207.7 637.4) scale(1.02 1.12)">1994</text>
<line x1="258.7" y1="629.5" x2="286.0" y2="629.5" stroke="#8faadc" stroke-width="3" stroke-linecap="round"/>
<text class="t" transform="translate(286.9 637.4) scale(1.02 1.12)">1998</text>
<line x1="337.9" y1="629.5" x2="365.2" y2="629.5" stroke="#4472c4" stroke-width="3" stroke-linecap="round"/>
<text class="t" transform="translate(366.1 637.4) scale(1.02 1.12)">2002</text>
<line x1="417.1" y1="629.5" x2="444.4" y2="629.5" stroke="#2f5597" stroke-width="3" stroke-linecap="round"/>
<text class="t" transform="translate(445.3 637.4) scale(1.02 1.12)">2006</text>
<line x1="496.3" y1="629.5" x2="523.6" y2="629.5" stroke="#2b4f96" stroke-width="3" stroke-linecap="round"/>
<text class="t" transform="translate(524.5 637.4) scale(1.02 1.12)">2010</text>
<line x1="575.5" y1="629.5" x2="602.8" y2="629.5" stroke="#1c3360" stroke-width="3" stroke-linecap="round"/>
<text class="t" transform="translate(603.7 637.4) scale(1.02 1.12)">2014</text>
<line x1="654.7" y1="629.5" x2="682.0" y2="629.5" stroke="#1c3360" stroke-width="3" stroke-linecap="round"/>
<text class="t" transform="translate(682.9 637.4) scale(1.02 1.12)">2018</text>
<line x1="733.9" y1="629.5" x2="761.2" y2="629.5" stroke="#1a305e" stroke-width="3" stroke-linecap="round"/>
<text class="t" transform="translate(762.1 637.4) scale(1.02 1.12)">2022</text>
<line x1="813.1" y1="629.5" x2="840.4" y2="629.5" stroke="#000000" stroke-width="3" stroke-linecap="round"/>
<text class="t" transform="translate(843.4 637.4) scale(1.08 1.06)">Moyenne</text>
</svg>
</body></html>
